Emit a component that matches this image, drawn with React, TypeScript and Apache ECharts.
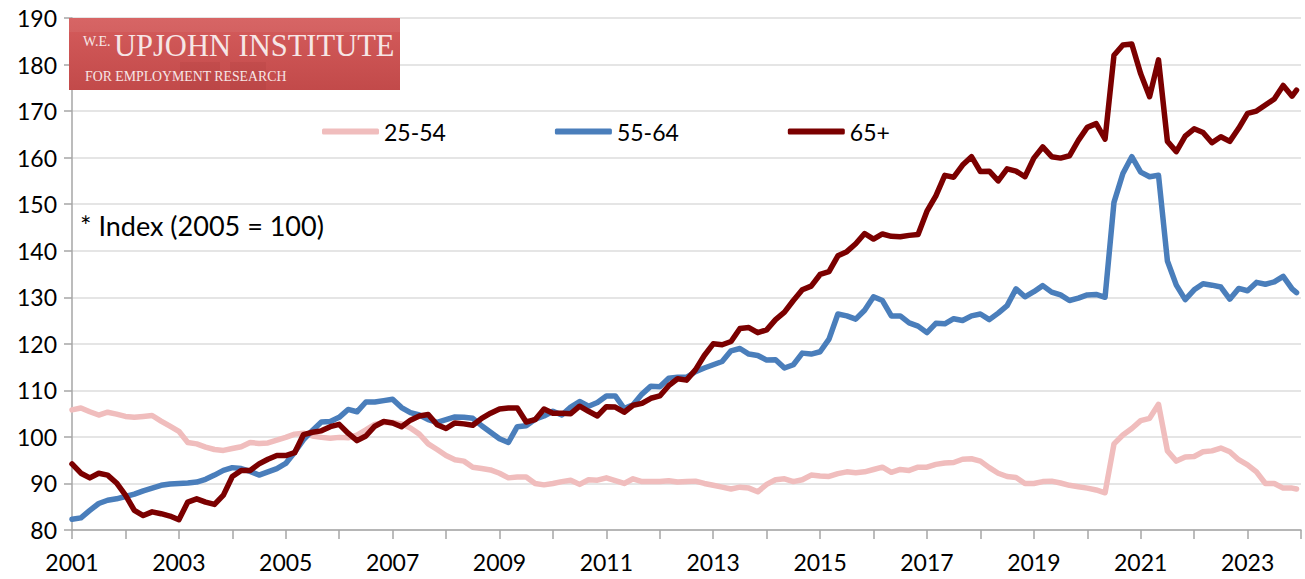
import React, { useEffect, useRef } from "react";
import * as echarts from "echarts";

// Bimonthly readings (Jan, Mar, May, Jul, Sep, Nov) from Jan 2001, plus Dec 2023
const startYear = 2001;
const endYear = 2024;
const yMin = 80;
const yMax = 190;
const yStep = 10;

const legendNames = ["25-54", "55-64", "65+"];
const noteText = "* Index (2005 = 100)";

const age25to54 = [
  105.8, 106.2, 105.4, 104.7, 105.3, 104.9,
  104.4, 104.2, 104.4, 104.6, 103.4, 102.3,
  101.2, 98.8, 98.5, 97.8, 97.3, 97.1,
  97.5, 97.9, 98.8, 98.6, 98.7, 99.3,
  99.9, 100.6, 100.8, 100.2, 99.9, 99.7,
  99.9, 99.8, 100.4, 101.5, 102.7, 103.1,
  103.1, 102.8, 101.9, 100.6, 98.5, 97.3,
  96.0, 95.1, 94.8, 93.5, 93.2, 92.9,
  92.2, 91.2, 91.4, 91.4, 90.0, 89.7,
  90.0, 90.4, 90.7, 89.8, 90.8, 90.7,
  91.2, 90.6, 90.0, 91.0, 90.4, 90.4,
  90.4, 90.6, 90.3, 90.4, 90.5, 90.0,
  89.6, 89.2, 88.8, 89.2, 89.0, 88.2,
  89.8, 90.8, 91.0, 90.4, 90.8, 91.8,
  91.6, 91.5, 92.1, 92.5, 92.3, 92.5,
  93.0, 93.5, 92.4, 93.0, 92.8, 93.5,
  93.5, 94.1, 94.4, 94.5, 95.2, 95.3,
  94.8, 93.4, 92.2, 91.5, 91.3, 90.0,
  90.0, 90.4, 90.5, 90.1, 89.6, 89.3,
  89.0, 88.6, 88.0, 98.5, 100.4, 101.8,
  103.5, 104.0, 107.0, 97.0, 94.8, 95.7,
  95.8, 96.8, 97.0, 97.6, 96.8, 95.1,
  94.0, 92.5, 90.0, 90.0, 89.0, 89.0,
  88.8,
];

const age55to64 = [
  82.3, 82.6, 84.2, 85.7, 86.4, 86.7,
  87.2, 87.7, 88.4, 89.0, 89.6, 89.9,
  90.0, 90.1, 90.3, 90.9, 91.8, 92.8,
  93.4, 93.2, 92.6, 91.8, 92.5, 93.2,
  94.3, 96.7, 99.4, 101.4, 103.2, 103.3,
  104.2, 105.9, 105.4, 107.5, 107.5, 107.8,
  108.1, 106.3, 105.2, 104.7, 103.7, 103.1,
  103.7, 104.3, 104.2, 104.0, 102.4, 101.0,
  99.6, 98.8, 102.2, 102.4, 103.8, 104.5,
  105.5, 104.7, 106.4, 107.6, 106.6, 107.4,
  108.8, 108.8, 106.1, 106.9, 109.2, 110.9,
  110.8, 112.6, 112.8, 112.8, 114.0, 114.8,
  115.5, 116.2, 118.5, 119.0, 117.8, 117.5,
  116.5, 116.6, 114.8, 115.5, 118.0, 117.8,
  118.3, 121.0, 126.4, 126.0, 125.3, 127.2,
  130.1, 129.3, 126.0, 126.0, 124.5, 123.8,
  122.4, 124.4, 124.3, 125.4, 125.0, 126.0,
  126.4, 125.2, 126.6, 128.2, 131.8, 130.1,
  131.2, 132.5, 131.1, 130.5, 129.3, 129.8,
  130.5, 130.6, 130.0, 150.4, 156.6, 160.2,
  156.9, 155.9, 156.2, 137.8, 132.6, 129.5,
  131.6, 132.9, 132.6, 132.2, 129.6, 131.9,
  131.4, 133.2, 132.8, 133.3, 134.5, 131.8,
  131.0,
];

const age65plus = [
  94.2, 92.2, 91.2, 92.2, 91.8, 90.1,
  87.5, 84.2, 83.1, 83.9, 83.5, 83.0,
  82.2, 86.0, 86.7, 86.0, 85.5, 87.5,
  91.5, 92.8, 92.8, 94.2, 95.2, 96.0,
  96.0, 96.6, 100.5, 101.0, 101.3, 102.2,
  102.7, 100.8, 99.2, 100.2, 102.3, 103.3,
  103.0, 102.2, 103.6, 104.5, 104.8, 102.6,
  101.8, 103.0, 102.8, 102.5, 104.0, 105.1,
  106.0, 106.2, 106.2, 103.2, 103.7, 106.0,
  105.1, 105.1, 105.0, 106.6, 105.5, 104.5,
  106.5, 106.4, 105.3, 106.8, 107.2, 108.3,
  108.8, 111.0, 112.5, 112.2, 114.4, 117.5,
  120.0, 119.8, 120.5, 123.3, 123.5, 122.4,
  123.0, 125.2, 126.8, 129.3, 131.6, 132.4,
  134.9, 135.5, 138.9, 139.8, 141.5, 143.7,
  142.5, 143.6, 143.1, 143.0, 143.3, 143.5,
  148.5, 151.8, 156.2, 155.8, 158.4, 160.2,
  157.0, 157.1, 155.0, 157.6, 157.1, 155.9,
  159.9, 162.3, 160.2, 159.9, 160.4, 163.7,
  166.5, 167.3, 164.0, 182.0, 184.2, 184.4,
  178.0, 173.1, 181.0, 163.5, 161.3, 164.6,
  166.2, 165.4, 163.2, 164.5, 163.5, 166.3,
  169.5, 170.0, 171.3, 172.6, 175.5, 173.2,
  174.5,
];

const colors = ["#F0BDBD", "#4A7EBB", "#7B0000"];

function xPositions(n: number): number[] {
  const xs: number[] = [];
  for (let i = 0; i < n - 1; i++) xs.push(startYear + i / 6);
  xs.push(2023 + 11 / 12);
  return xs;
}

export default function App() {
  const ref = useRef<HTMLDivElement>(null);

  useEffect(() => {
    if (!ref.current) return;
    const chart = echarts.init(ref.current, null, { renderer: "svg" });
    const series = [age25to54, age55to64, age65plus].map((vals, k) => {
      const xs = xPositions(vals.length);
      return {
        name: legendNames[k],
        type: "line",
        symbol: "none",
        color: colors[k],
        data: vals.map((v, i) => [xs[i], v]),
        lineStyle: { width: 5.5, color: colors[k], cap: "round", join: "round" },
        z: 2 + k,
      };
    });

    const font = "Lato, 'Open Sans', sans-serif";

    chart.setOption({
      animation: false,
      backgroundColor: "#ffffff",
      grid: { left: 72, right: 4, top: 18, bottom: 49, containLabel: false },
      legend: {
        data: legendNames,
        left: 317,
        top: 115,
        icon: "roundRect",
        itemWidth: 57,
        itemHeight: 6,
        itemGap: 109,
        textStyle: { fontFamily: font, fontSize: 23, color: "#000" },
      },
      xAxis: {
        type: "value",
        min: startYear,
        max: endYear,
        interval: 1,
        axisLine: { show: true, lineStyle: { color: "#A6A6A6", width: 1.5 } },
        axisTick: { show: true, length: 9, lineStyle: { color: "#A6A6A6", width: 1.5 } },
        splitLine: { show: false },
        axisLabel: {
          fontFamily: font,
          fontSize: 23,
          color: "#000",
          margin: 20,
          formatter: (v: number) => (Math.round(v) % 2 === 1 ? String(Math.round(v)) : ""),
        },
      },
      yAxis: {
        type: "value",
        min: yMin,
        max: yMax,
        interval: yStep,
        axisLine: { show: true, lineStyle: { color: "#A6A6A6", width: 1.5 } },
        axisTick: { show: true, length: 8, lineStyle: { color: "#A6A6A6", width: 1.5 } },
        splitLine: { show: true, lineStyle: { color: "#DCDCDC", width: 1.5 } },
        axisLabel: { fontFamily: font, fontSize: 23, color: "#000", margin: 15 },
      },
      graphic: [
        {
          type: "rect",
          shape: { x: 69, y: 18, width: 331, height: 72 },
          style: {
            fill: new echarts.graphic.LinearGradient(0, 0, 0, 1, [
              { offset: 0, color: "#D55C5C" },
              { offset: 1, color: "#C24A4A" },
            ]),
          },
          z: 10,
        },
        {
          type: "rect",
          shape: { x: 69, y: 18, width: 331, height: 14 },
          style: { fill: "rgba(255,255,255,0.06)" },
          z: 11,
        },
        {
          type: "rect",
          shape: { x: 180, y: 62, width: 40, height: 28 },
          style: { fill: "rgba(120,20,20,0.08)" },
          z: 11,
        },
        {
          type: "rect",
          shape: { x: 230, y: 62, width: 36, height: 28 },
          style: { fill: "rgba(120,20,20,0.08)" },
          z: 11,
        },
        {
          type: "text",
          x: 83,
          y: 41,
          style: {
            text: "W.E.",
            fill: "#F6E6E6",
            font: "14px 'Liberation Serif', 'DejaVu Serif', serif",
            verticalAlign: "middle",
          },
          z: 12,
        },
        {
          type: "text",
          x: 114,
          y: 46,
          style: {
            text: "UPJOHN INSTITUTE",
            fill: "#F6E6E6",
            font: "30.5px 'Liberation Serif', 'DejaVu Serif', serif",
            verticalAlign: "middle",
          },
          z: 12,
        },
        {
          type: "text",
          x: 85,
          y: 76,
          style: {
            text: "FOR EMPLOYMENT RESEARCH",
            fill: "#F6E6E6",
            font: "13.8px 'Liberation Serif', 'DejaVu Serif', serif",
            verticalAlign: "middle",
          },
          z: 12,
        },
        {
          type: "text",
          x: 80,
          y: 225,
          style: {
            text: noteText,
            fill: "#000",
            font: "27px Lato, 'Open Sans', sans-serif",
            verticalAlign: "middle",
          },
          z: 12,
        },
      ],
      series,
    });
    return () => chart.dispose();
  }, []);

  return (
    <div
      ref={ref}
      style={{ width: 1305, height: 579, position: "absolute", left: 0, top: 0 }}
    />
  );
}
